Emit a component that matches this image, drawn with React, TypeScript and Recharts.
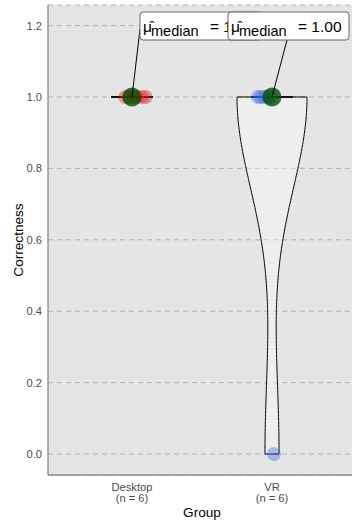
import React from 'react';
import { ComposedChart, XAxis, YAxis, CartesianGrid, Area, Line, Scatter, Label } from 'recharts';

// ---------- data ----------
const GROUPS = ['Desktop', 'VR'];
const DESKTOP_VALUES = [1, 1, 1, 1, 1, 1];
const VR_VALUES = [1, 1, 1, 1, 1, 0];
// horizontal jitter of each point (in category units)
const DESKTOP_JITTER = [-0.048, -0.025, 0.005, 0.035, 0.07, 0.098];
const VR_JITTER = [-0.1, -0.08, -0.055, -0.03, -0.01, 0.014];
const Y_TICKS = [0, 0.2, 0.4, 0.6, 0.8, 1.0, 1.2];
const GROUP_VALUES = [DESKTOP_VALUES, VR_VALUES];
const GROUP_JITTER = [DESKTOP_JITTER, VR_JITTER];

// ---------- style ----------
const FONT = '"Liberation Sans", Arial, Helvetica, sans-serif';
const POINT_COLORS = ['#e41a1c', '#4169e1'];
const X_DOMAIN = [0.4, 2.6];
const Y_DOMAIN = [-0.0588, 1.2577];
const LABEL_LAYOUT = [
  { bx: 8, by: -85, sx: 8, sy: -68 },
  { bx: -44, by: -85, sx: 15, sy: -57 },
];

// ---------- stats ----------
const sorted = (a: number[]) => [...a].sort((p, q) => p - q);
const quantile = (a: number[], p: number) => {
  const s = sorted(a);
  const h = (s.length - 1) * p;
  const lo = Math.floor(h);
  const hi = Math.min(lo + 1, s.length - 1);
  return s[lo] + (h - lo) * (s[hi] - s[lo]);
};
const median = (a: number[]) => quantile(a, 0.5);
const bwNrd0 = (a: number[]) => {
  const n = a.length;
  const mean = a.reduce((s, v) => s + v, 0) / n;
  const sd = Math.sqrt(a.reduce((s, v) => s + (v - mean) ** 2, 0) / (n - 1));
  const iqr = quantile(a, 0.75) - quantile(a, 0.25);
  let lo = Math.min(sd, iqr / 1.34);
  if (!lo) lo = sd || Math.abs(a[0]) || 1;
  return 0.9 * lo * Math.pow(n, -0.2);
};
const kde = (a: number[], bw: number, y: number) =>
  a.reduce((s, v) => s + Math.exp(-0.5 * ((y - v) / bw) ** 2), 0) / (a.length * bw * Math.sqrt(2 * Math.PI));

const densities = GROUP_VALUES.map((vals) => {
  const bw = bwNrd0(vals);
  const lo = Math.min(...vals);
  const hi = Math.max(...vals);
  const N = 256;
  const ys = lo === hi ? [lo] : Array.from({ length: N }, (_, i) => lo + ((hi - lo) * i) / (N - 1));
  return ys.map((y) => ({ y, d: kde(vals, bw, y) }));
});
const maxD = Math.max(...densities.flat().map((p) => p.d));
const VIOLIN_HALF = 0.25;

const violinAreas = densities.map((pts, gi) =>
  pts.map((p) => {
    const h = (VIOLIN_HALF * p.d) / maxD;
    return { y: p.y, range: [gi + 1 - h, gi + 1 + h] };
  })
);
const violinOutlines = densities.map((pts, gi) => {
  const left = pts.map((p) => ({ y: p.y, x: gi + 1 - (VIOLIN_HALF * p.d) / maxD }));
  const right = pts.map((p) => ({ y: p.y, x: gi + 1 + (VIOLIN_HALF * p.d) / maxD })).reverse();
  return [...left, ...right, left[0]];
});

const BOX_HALF = 0.15;
const boxes = GROUP_VALUES.map((vals, gi) => {
  const q1 = quantile(vals, 0.25);
  const q3 = quantile(vals, 0.75);
  const g = gi + 1;
  return [
    { x: g - BOX_HALF, y: q1 },
    { x: g + BOX_HALF, y: q1 },
    { x: g + BOX_HALF, y: q3 },
    { x: g - BOX_HALF, y: q3 },
    { x: g - BOX_HALF, y: q1 },
  ];
});
const medianLines = GROUP_VALUES.map((vals, gi) => {
  const m = median(vals);
  return [
    { x: gi + 1 - BOX_HALF, y: m },
    { x: gi + 1 + BOX_HALF, y: m },
  ];
});
const pointData = GROUP_VALUES.map((vals, gi) =>
  vals.map((v, i) => ({ x: gi + 1 + GROUP_JITTER[gi][i], y: v }))
);
const medianPoints = GROUP_VALUES.map((vals, gi) => ({ x: gi + 1, y: median(vals), gi, label: median(vals).toFixed(2) }));

// ---------- render helpers ----------
const XTick = (props: any) => {
  const { x, y, payload } = props;
  const gi = Math.round(payload.value) - 1;
  if (gi < 0 || gi >= GROUPS.length) return null;
  return (
    <text x={x} y={y} textAnchor="middle" fontFamily={FONT} fontSize={11.2} fill="#4d4d4d">
      <tspan x={x} dy={16}>{GROUPS[gi]}</tspan>
      <tspan x={x} dy={11}>{`(n = ${GROUP_VALUES[gi].length})`}</tspan>
    </text>
  );
};

const MedianLabel = (props: any) => {
  const { cx, cy, payload } = props;
  const L = LABEL_LAYOUT[payload.gi];
  const bx = cx + L.bx;
  const by = cy + L.by;
  return (
    <g>
      <line x1={cx} y1={cy} x2={cx + L.sx} y2={cy + L.sy} stroke="#000" strokeWidth={1} />
      <rect x={bx} y={by} width={121} height={28} rx={3} ry={3} fill="#ffffff" stroke="#666666" strokeWidth={1} />
      <text x={bx + 3} y={by + 20} fontFamily={FONT} fontSize={15.5} fill="#000">
        <tspan x={bx + 3}>{'\u03bc\u0302'}</tspan>
        <tspan x={bx + 11} dy={4} fontSize={14.5}>median</tspan>
        <tspan x={bx + 70} dy={-4}>{`= ${payload.label}`}</tspan>
      </text>
    </g>
  );
};

export default function App() {
  return (
    <div style={{ position: 'absolute', left: 0, top: 0, width: 352, height: 524, overflow: 'hidden', background: '#fff' }}>
      <ComposedChart
        width={356}
        height={524}
        layout="vertical"
        margin={{ top: 5, right: 0, bottom: 0, left: 0 }}
      >
        <CartesianGrid
          vertical={false}
          stroke="#b3b3b3"
          strokeDasharray="5 4"
          fill="#e5e5e5"
          fillOpacity={1}
        />
        <XAxis
          type="number"
          dataKey="x"
          domain={X_DOMAIN}
          ticks={[1, 2]}
          allowDataOverflow
          height={49}
          tickLine={false}
          tickSize={0}
          tickMargin={0}
          axisLine={{ stroke: '#8a8a8a', strokeWidth: 1.3 }}
          tick={<XTick />}
          interval={0}
        >
          <Label
            content={(p: any) => {
              const vb = p.viewBox;
              return (
                <text x={vb.x + vb.width / 2} y={vb.y + 42} textAnchor="middle" fontFamily={FONT} fontSize={13.6} fill="#000">
                  Group
                </text>
              );
            }}
          />
        </XAxis>
        <YAxis
          type="number"
          dataKey="y"
          domain={Y_DOMAIN}
          ticks={Y_TICKS}
          reversed
          allowDataOverflow
          width={48}
          tickLine={false}
          tickSize={0}
          tickMargin={6}
          axisLine={{ stroke: '#8a8a8a', strokeWidth: 1.3 }}
          tick={{ fontFamily: FONT, fontSize: 11.2, fill: '#4d4d4d' }}
          tickFormatter={(v: number) => v.toFixed(1)}
          interval={0}
        >
          <Label
            content={(p: any) => {
              const vb = p.viewBox;
              const x = vb.x + 23;
              const y = vb.y + vb.height / 2;
              return (
                <text x={x} y={y} transform={`rotate(-90 ${x} ${y})`} textAnchor="middle" fontFamily={FONT} fontSize={13.6} fill="#000">
                  Correctness
                </text>
              );
            }}
          />
        </YAxis>

        {violinAreas.map((d, gi) =>
          d.length > 1 ? (
            <Area
              key={`va${gi}`}
              data={d}
              dataKey="range"
              type="linear"
              fill="#ffffff"
              fillOpacity={0.35}
              stroke="none"
              isAnimationActive={false}
              dot={false}
              activeDot={false}
            />
          ) : null
        )}
        {violinOutlines.map((d, gi) => (
          <Line
            key={`vo${gi}`}
            data={d}
            dataKey="x"
            type="linear"
            stroke="#000"
            strokeWidth={1}
            dot={false}
            activeDot={false}
            isAnimationActive={false}
          />
        ))}
        {boxes.map((d, gi) => (
          <Line
            key={`bx${gi}`}
            data={d}
            dataKey="x"
            type="linear"
            stroke="#000"
            strokeWidth={1}
            dot={false}
            activeDot={false}
            isAnimationActive={false}
          />
        ))}
        {medianLines.map((d, gi) => (
          <Line
            key={`ml${gi}`}
            data={d}
            dataKey="x"
            type="linear"
            stroke="#111"
            strokeWidth={2.2}
            dot={false}
            activeDot={false}
            isAnimationActive={false}
          />
        ))}
        {pointData.map((d, gi) => (
          <Scatter
            key={`pt${gi}`}
            data={d}
            isAnimationActive={false}
            shape={(p: any) => <circle cx={p.cx} cy={p.cy} r={7} fill={POINT_COLORS[gi]} fillOpacity={0.4} />}
          />
        ))}
        <Scatter
          data={medianPoints}
          isAnimationActive={false}
          shape={(p: any) => <circle cx={p.cx} cy={p.cy} r={9.5} fill="#005000" fillOpacity={0.8} />}
        />
        <Scatter data={medianPoints} isAnimationActive={false} shape={(p: any) => <MedianLabel {...p} />} />
      </ComposedChart>
    </div>
  );
}
